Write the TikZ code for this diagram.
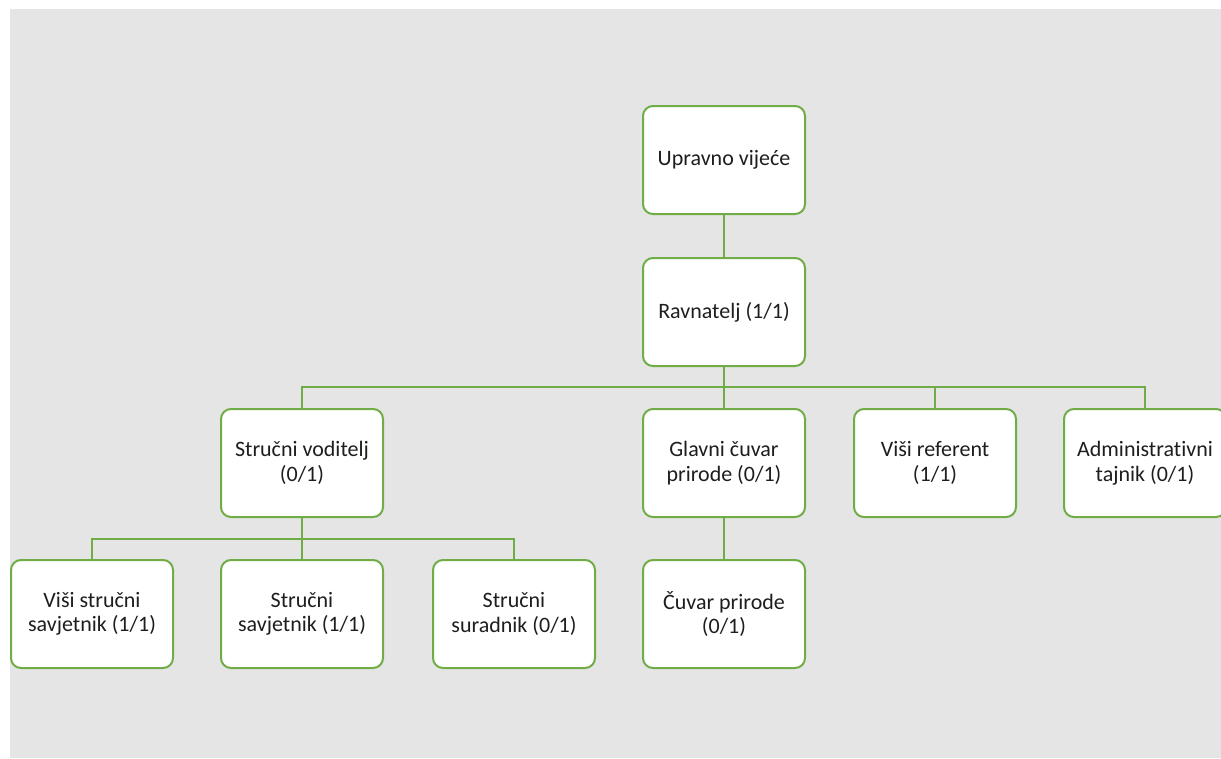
\documentclass[tikz,border=0pt]{standalone}
\usepackage{fontspec}
\setmainfont{Carlito}[Ligatures=CommonOff]
\definecolor{bggray}{RGB}{229,229,229}
\definecolor{boxgreen}{RGB}{112,173,71}
\definecolor{txt}{RGB}{30,30,30}
\begin{document}
\begin{tikzpicture}[x=1pt,y=-1pt,
  orgbox/.style={draw=boxgreen,line width=2pt,fill=white,rounded corners=10pt,
    minimum width=162pt,minimum height=108pt,inner sep=2pt,align=center,
    text=txt,font=\fontsize{22}{24.5}\selectfont},
  link/.style={draw=boxgreen,line width=2pt}]
\useasboundingbox (0,0) rectangle (1221,758);
\fill[white] (0,0) rectangle (1221,758);
\fill[bggray] (10,9) rectangle (1221,758);
% nodes
\node[orgbox] (uv) at (724,160) {Upravno vijeće};
\node[orgbox] (rav) at (724,312) {Ravnatelj (1/1)};
\node[orgbox] (sv) at (302,463) {Stručni voditelj\\(0/1)};
\node[orgbox] (gc) at (724,463) {Glavni čuvar\\prirode (0/1)};
\node[orgbox] (vr) at (935,463) {Viši referent\\(1/1)};
\node[orgbox] (at) at (1145,463) {Administrativni\\tajnik (0/1)};
\node[orgbox] (vss) at (92,614) {Viši stručni\\savjetnik (1/1)};
\node[orgbox] (ss) at (302,614) {Stručni\\savjetnik (1/1)};
\node[orgbox] (ssu) at (514,614) {Stručni\\suradnik (0/1)};
\node[orgbox] (cp) at (724,614) {Čuvar prirode\\(0/1)};
% connectors
\coordinate (bus1) at (0,387);
\coordinate (bus2) at (0,539);
\draw[link] (uv.south) -- (rav.north);
\draw[link] (rav.south) -- (rav.south |- bus1);
\draw[link] (sv.north) -- (sv.north |- bus1) -- (at.north |- bus1) -- (at.north);
\draw[link] (gc.north) -- (gc.north |- bus1);
\draw[link] (vr.north) -- (vr.north |- bus1);
\draw[link] (sv.south) -- (sv.south |- bus2);
\draw[link] (vss.north) -- (vss.north |- bus2) -- (ssu.north |- bus2) -- (ssu.north);
\draw[link] (ss.north) -- (ss.north |- bus2);
\draw[link] (gc.south) -- (cp.north);
\end{tikzpicture}
\end{document}
